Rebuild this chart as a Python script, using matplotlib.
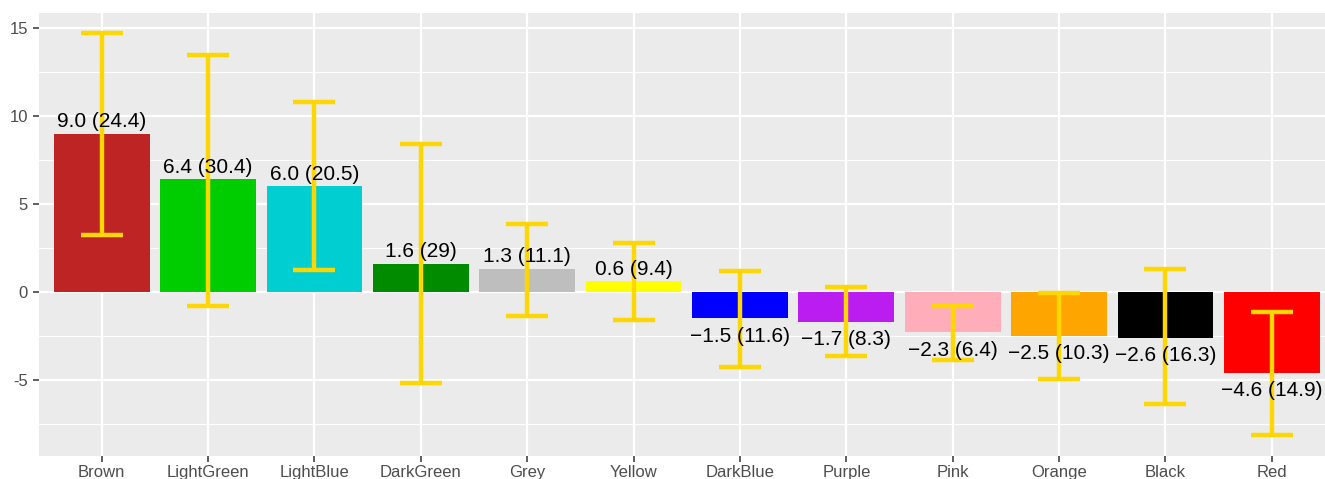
import matplotlib
matplotlib.use("Agg")
import matplotlib.pyplot as plt
import numpy as np

categories = ["Brown", "LightGreen", "LightBlue", "DarkGreen", "Grey", "Yellow",
              "DarkBlue", "Purple", "Pink", "Orange", "Black", "Red"]
means = [9.0, 6.4, 6.0, 1.6, 1.3, 0.6, -1.5, -1.7, -2.3, -2.5, -2.6, -4.6]
sds = ["24.4", "30.4", "20.5", "29", "11.1", "9.4", "11.6", "8.3", "6.4", "10.3", "16.3", "14.9"]
err_low = [3.25, -0.8, 1.25, -5.17, -1.36, -1.59, -4.27, -3.64, -3.86, -4.94, -6.36, -8.12]
err_high = [14.73, 13.47, 10.8, 8.4, 3.84, 2.78, 1.19, 0.28, -0.8, -0.07, 1.3, -1.14]
bar_colors = ["#BE2424", "#00CD00", "#00CED1", "#008B00", "#BEBEBE", "#FFFF00",
              "#0000FF", "#BB1CF0", "#FFAEB9", "#FFA500", "#000000", "#FF0000"]
y_ticks = [-5, 0, 5, 10, 15]

plt.rcParams['font.family'] = ['Liberation Sans', 'DejaVu Sans']

fig = plt.figure(figsize=(13.25, 4.79), dpi=100)
ax = fig.add_axes([39/1325, 1-456/479, 1-39/1325, (456-13)/479])
ax.set_facecolor("#EBEBEB")

x = np.arange(1, len(categories) + 1)
ax.bar(x, means, width=0.9, color=bar_colors, zorder=3)

m = np.array(means)
lo = m - np.array(err_low)
hi = np.array(err_high) - m
ax.errorbar(x, m, yerr=[lo, hi], fmt='none', ecolor="#FFD700", elinewidth=3.2,
            capsize=15, capthick=3.2, zorder=4)

for xi, mv, sd in zip(x, means, sds):
    txt = f"{mv:.1f} ({sd})".replace("-", "\u2212")
    if mv >= 0:
        ax.annotate(txt, (xi, mv), xytext=(0, 2), textcoords="offset points",
                    ha="center", va="bottom", fontsize=15, color="black", zorder=5)
    else:
        ax.annotate(txt, (xi, mv), xytext=(0, -6), textcoords="offset points",
                    ha="center", va="top", fontsize=15, color="black", zorder=5)

ax.set_xlim(0.41, 12.5)
ax.set_ylim(-9.32, 15.85)
ax.set_xticks(x)
ax.set_xticklabels(categories)
ax.set_yticks(y_ticks)
ax.set_yticklabels([str(t) for t in y_ticks])
ax.set_yticks([-7.5, -2.5, 2.5, 7.5, 12.5], minor=True)

ax.grid(True, which="major", color="white", linewidth=1.6, zorder=0)
ax.grid(True, which="minor", axis="y", color="white", linewidth=0.8, zorder=0)
ax.set_axisbelow(True)
for s in ax.spines.values():
    s.set_visible(False)
ax.tick_params(axis="both", which="major", length=4.5, width=1.1, color="#333333",
               labelcolor="#4D4D4D", labelsize=12)
ax.tick_params(axis="y", which="minor", length=0)
ax.tick_params(axis="x", pad=2)

fig.savefig("out.png", dpi=100)
